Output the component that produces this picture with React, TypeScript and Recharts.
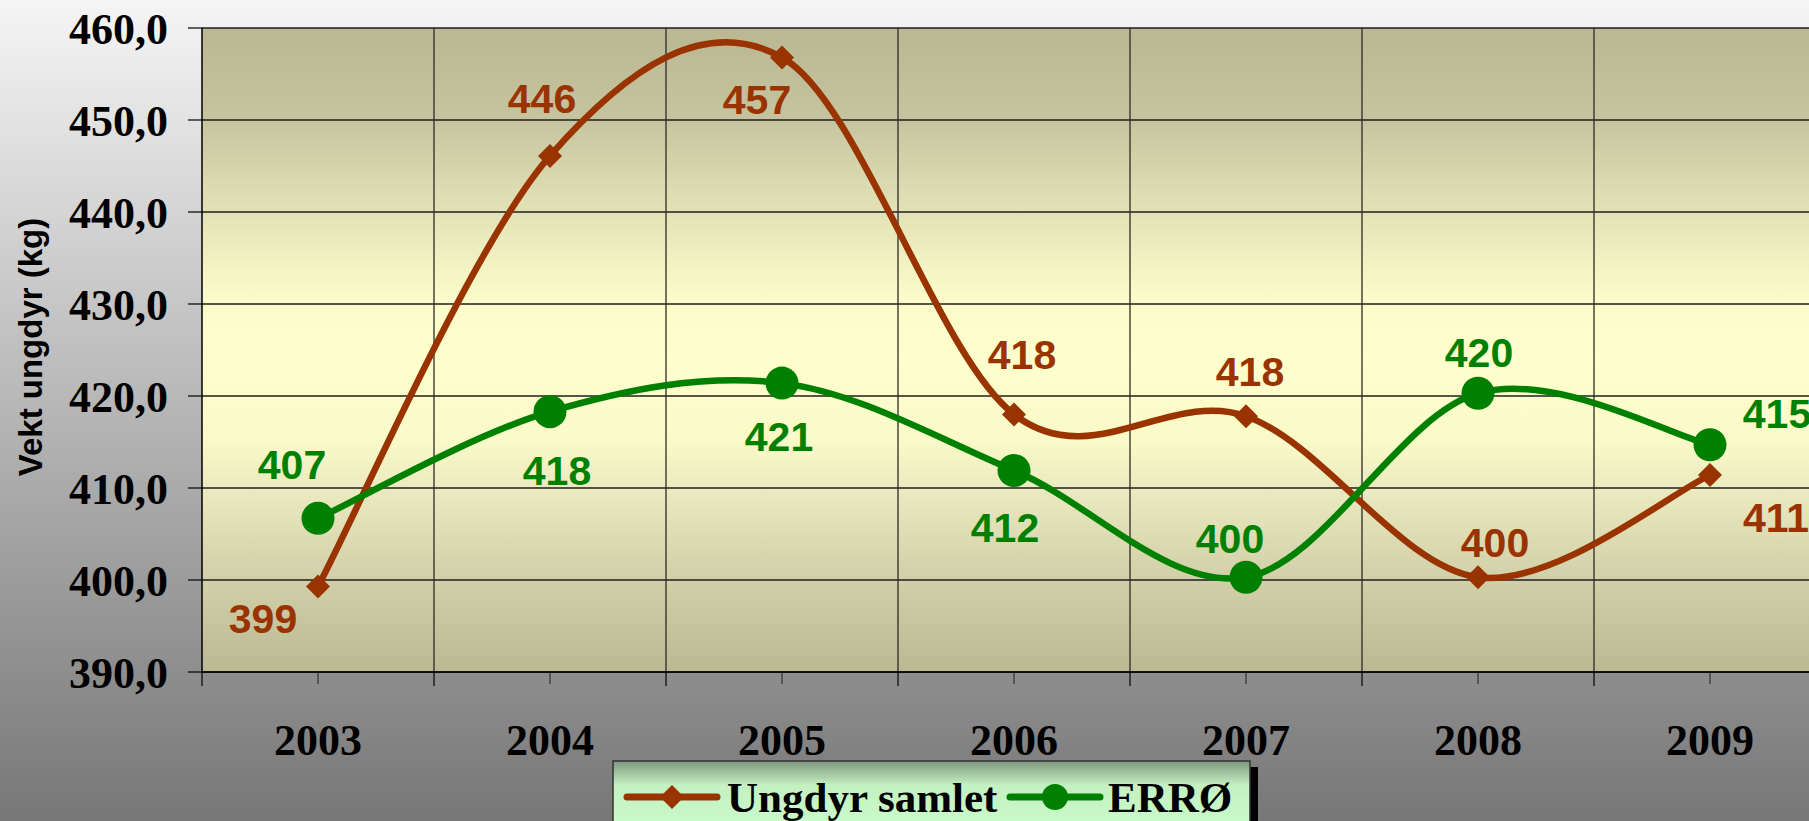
import React from 'react';
import { LineChart, Line, XAxis, YAxis, CartesianGrid, LabelList, ReferenceLine } from 'recharts';

const years = ['2003', '2004', '2005', '2006', '2007', '2008', '2009'];
const ungdyrSamlet = [399.3, 446.1, 456.8, 418.0, 417.8, 400.3, 411.4];
const erro = [406.7, 418.3, 421.4, 411.9, 400.3, 420.3, 414.7];
const yTicks = [390, 400, 410, 420, 430, 440, 450, 460];

const seriesNames = ['Ungdyr samlet', 'ERRØ'];
const BROWN = '#993300';
const GREEN = '#008000';

// label placement per point (dx, dy from the marker), like the hand-moved Excel labels
const ungdyrLabelOffsets = [[-55, 32], [-8, -58], [-25, 42], [8, -60], [4, -45], [17, -35], [66, 42]];
const erroLabelOffsets = [[-26, -54], [7, 58], [-3, 53], [-9, 56], [-16, -39], [1, -41], [67, -32]];

const data = years.map((year, idx) => ({
  idx,
  year,
  ungdyr: ungdyrSamlet[idx],
  erro: erro[idx],
}));

const boundaries = [-0.5, ...years.map((_, i) => i + 0.5)];
const innerBoundaries = years.slice(1).map((_, i) => i + 0.5);
const centers = years.map((_, i) => i);

const SERIF = '"Liberation Serif", "Times New Roman", serif';
const SANS = '"Liberation Sans", Arial, sans-serif';

// Excel-style smoothed line (uniform Catmull-Rom as cubic beziers)
function excelSmooth(context: any) {
  let pts: number[][] = [];
  return {
    areaStart() {},
    areaEnd() {},
    lineStart() {
      pts = [];
    },
    point(x: number, y: number) {
      pts.push([+x, +y]);
    },
    lineEnd() {
      if (!pts.length) return;
      context.moveTo(pts[0][0], pts[0][1]);
      for (let i = 0; i < pts.length - 1; i++) {
        const p0 = pts[Math.max(i - 1, 0)];
        const p1 = pts[i];
        const p2 = pts[i + 1];
        const p3 = pts[Math.min(i + 2, pts.length - 1)];
        context.bezierCurveTo(
          p1[0] + (p2[0] - p0[0]) / 6,
          p1[1] + (p2[1] - p0[1]) / 6,
          p2[0] - (p3[0] - p1[0]) / 6,
          p2[1] - (p3[1] - p1[1]) / 6,
          p2[0],
          p2[1]
        );
      }
    },
  };
}

const diamondDot = (props: any) => {
  const { cx, cy, index } = props;
  if (cx == null || cy == null) return <g key={`d-${index}`} />;
  const r = 12;
  return (
    <polygon
      key={`d-${index}`}
      points={`${cx},${cy - r} ${cx + r},${cy} ${cx},${cy + r} ${cx - r},${cy}`}
      fill={BROWN}
    />
  );
};

const circleDot = (props: any) => {
  const { cx, cy, index } = props;
  if (cx == null || cy == null) return <g key={`c-${index}`} />;
  return <circle key={`c-${index}`} cx={cx} cy={cy} r={16.5} fill={GREEN} />;
};

function makeLabel(offsets: number[][], color: string) {
  return (props: any) => {
    const vb = props.viewBox || {};
    const px = vb.x ?? props.x;
    const py = vb.y ?? props.y;
    const i = props.index ?? 0;
    const [dx, dy] = offsets[i] || [0, -40];
    return (
      <text
        x={px + dx}
        y={py + dy + 15}
        textAnchor="middle"
        fill={color}
        fontFamily={SANS}
        fontWeight="bold"
        fontSize={41}
      >
        {Math.round(Number(props.value))}
      </text>
    );
  };
}

const YLabel = (props: any) => {
  const vb = props.viewBox || { x: 0, y: 28, width: 202, height: 644 };
  const x = vb.x + 30;
  const y = vb.y + vb.height / 2 - 3;
  return (
    <text
      x={x}
      y={y}
      transform={`rotate(-90, ${x}, ${y})`}
      textAnchor="middle"
      dominantBaseline="central"
      fontFamily={SANS}
      fontWeight="bold"
      fontSize={33}
      fill="#000"
    >
      Vekt ungdyr (kg)
    </text>
  );
};

function Legend() {
  return (
    <svg
      width={1809}
      height={821}
      style={{ position: 'absolute', left: 0, top: 0, pointerEvents: 'none' }}
    >
      <defs>
        <linearGradient id="legendBg" x1="0" y1="0" x2="0" y2="1">
          <stop offset="0%" stopColor="#7f977d" />
          <stop offset="30%" stopColor="#c4f0c2" />
          <stop offset="100%" stopColor="#ccffcc" />
        </linearGradient>
      </defs>
      <rect x={621} y={767} width={637} height={80} fill="#000" />
      <rect x={613} y={761} width={637} height={80} fill="url(#legendBg)" stroke="#333" strokeWidth={1.5} />
      <line x1={627} y1={797} x2={717} y2={797} stroke={BROWN} strokeWidth={7} strokeLinecap="round" />
      <polygon points="672,785 684,797 672,809 660,797" fill={BROWN} />
      <text x={727} y={812} fontFamily={SERIF} fontWeight="bold" fontSize={43} fill="#000">
        {seriesNames[0]}
      </text>
      <line x1={1010} y1={797} x2={1100} y2={797} stroke={GREEN} strokeWidth={7} strokeLinecap="round" />
      <circle cx={1055} cy={797} r={13} fill={GREEN} />
      <text x={1108} y={812} fontFamily={SERIF} fontWeight="bold" fontSize={43} fill="#000">
        {seriesNames[1]}
      </text>
    </svg>
  );
}

export default function App() {
  return (
    <div
      style={{
        position: 'absolute',
        left: 0,
        top: 0,
        width: 1809,
        height: 821,
        overflow: 'hidden',
        background: 'linear-gradient(to bottom, #f5f5f5 0%, #777777 100%)',
      }}
    >
      <LineChart
        width={1840}
        height={821}
        data={data}
        margin={{ top: 28, right: 14, left: 0, bottom: 147 }}
      >
        <defs>
          <linearGradient id="plotBg" x1="0" y1="0" x2="0" y2="1">
            <stop offset="0%" stopColor="#b9b893" />
            <stop offset="14%" stopColor="#c5c49e" />
            <stop offset="28%" stopColor="#e2e1b6" />
            <stop offset="42%" stopColor="#fcfcca" />
            <stop offset="52%" stopColor="#ffffcd" />
            <stop offset="64%" stopColor="#fafac8" />
            <stop offset="72%" stopColor="#eae9bf" />
            <stop offset="83%" stopColor="#d5d4ac" />
            <stop offset="100%" stopColor="#bab993" />
          </linearGradient>
        </defs>
        <CartesianGrid
          vertical={false}
          fill="url(#plotBg)"
          fillOpacity={1}
          stroke="#1e1e1e"
          strokeWidth={1.3}
        />
        <XAxis
          xAxisId="grid"
          type="number"
          dataKey="idx"
          domain={[-0.5, 6.5]}
          ticks={boundaries}
          interval={0}
          tickFormatter={() => ''}
          tickSize={14}
          height={1}
          axisLine={{ stroke: '#000', strokeWidth: 1.5 }}
          tickLine={{ stroke: '#000', strokeWidth: 1.2 }}
        />
        <XAxis
          xAxisId="main"
          type="number"
          dataKey="idx"
          domain={[-0.5, 6.5]}
          ticks={centers}
          interval={0}
          tickFormatter={(i: number) => years[i] ?? ''}
          tickSize={11}
          tickMargin={40}
          height={1}
          axisLine={false}
          tickLine={{ stroke: '#333', strokeWidth: 1.2 }}
          tick={{ fill: '#000', fontSize: 44, fontFamily: SERIF, fontWeight: 'bold' }}
        />
        <YAxis
          type="number"
          domain={[390, 460]}
          ticks={yTicks}
          interval={0}
          width={202}
          tickSize={14}
          tickMargin={20}
          tickFormatter={(v: number) => v.toFixed(1).replace('.', ',')}
          axisLine={{ stroke: '#000', strokeWidth: 1.5 }}
          tickLine={{ stroke: '#000', strokeWidth: 1.2 }}
          tick={{ fill: '#000', fontSize: 44, fontFamily: SERIF, fontWeight: 'bold' }}
          label={(p: any) => <YLabel {...p} />}
        />
        {innerBoundaries.map((b) => (
          <ReferenceLine
            key={b}
            xAxisId="grid"
            x={b}
            stroke="#2a2a2a"
            strokeWidth={1.3}
          />
        ))}
        <Line
          xAxisId="main"
          dataKey="ungdyr"
          name={seriesNames[0]}
          type={excelSmooth as any}
          stroke={BROWN}
          strokeWidth={6.5}
          dot={diamondDot}
          activeDot={false}
          isAnimationActive={false}
        >
          <LabelList dataKey="ungdyr" content={makeLabel(ungdyrLabelOffsets, BROWN)} />
        </Line>
        <Line
          xAxisId="main"
          dataKey="erro"
          name={seriesNames[1]}
          type={excelSmooth as any}
          stroke={GREEN}
          strokeWidth={6.5}
          dot={circleDot}
          activeDot={false}
          isAnimationActive={false}
        >
          <LabelList dataKey="erro" content={makeLabel(erroLabelOffsets, GREEN)} />
        </Line>
      </LineChart>
      <Legend />
    </div>
  );
}
